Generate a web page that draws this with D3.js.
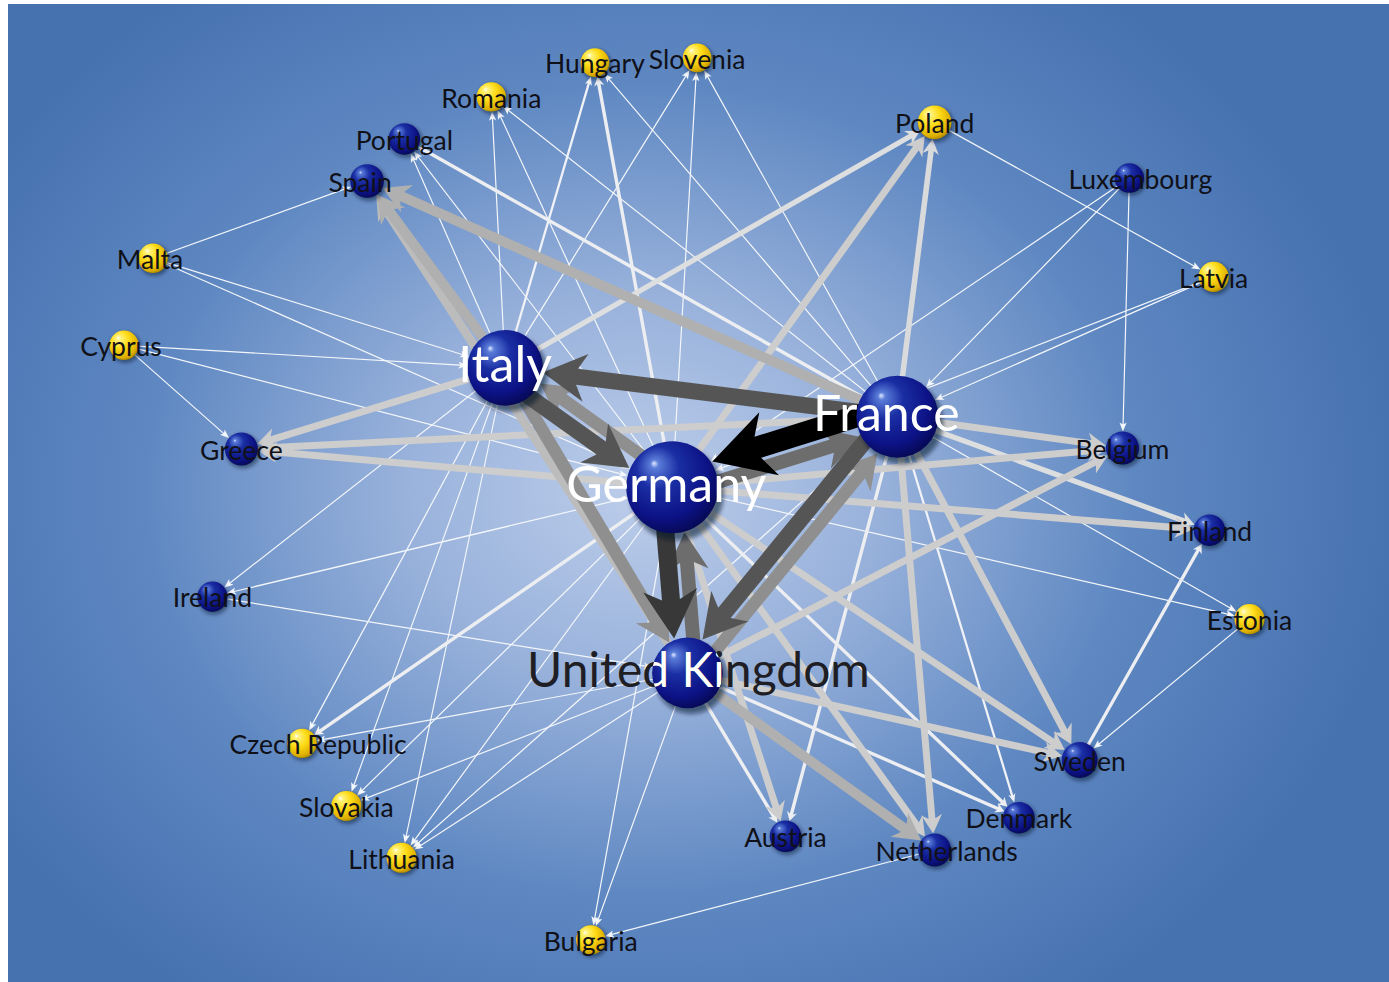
<!DOCTYPE html>
<html>
<head>
<meta charset="utf-8">
<script src="https://cdn.jsdelivr.net/npm/d3@7"></script>
<style>
  html, body { margin: 0; padding: 0; background: #fff; }
  svg { display: block; }
</style>
</head>
<body>
<svg id="chart" width="1389" height="982"></svg>
<script>

// countries, layout position (0-100 units), size index, membership group
var countries = ["Hungary","Slovenia","Romania","Portugal","Spain","Poland","Luxembourg","Latvia",
                 "Malta","Cyprus","Italy","France","Germany","Greece","Belgium","Finland",
                 "Ireland","Estonia","United Kingdom","Czech Republic","Sweden","Slovakia",
                 "Denmark","Austria","Netherlands","Lithuania","Bulgaria"];
var layoutX = [42.5,49.9,35.0,28.7,26.0,67.1,81.2,87.3, 10.5,8.4,36.0,64.4,48.1,16.9,80.7,87.0,
               14.8,89.9,49.2,21.3,77.6,24.5, 73.2,56.3,67.1,28.5,42.2];
var layoutY = [6.0,5.5,9.5,13.8,18.1,12.1,17.8,27.9, 26.0,34.9,37.2,42.2,49.4,45.5,45.4,53.8,
               60.6,62.9,68.4,75.6,77.3,82.0, 83.2,85.1,86.5,87.3,95.7];
var sizeIndex = [1.1,1.1,1.2,1.5,1.8,1.8,1.2,1.3, 1.2,1.2,7.7,8.6,10,1.7,1.7,1.5,
                 1.3,1.3,7.0,1.2,2.1,1.3, 1.5,1.5,1.7,1.3,1.2];
var memberGroup = ["new","new","new","old","old","new","old","new",
                   "new","new","old","old","old","old","old","old",
                   "old","new","old","new","old","new",
                   "old","old","old","new","new"];

// directed links: [from, to, strength]
var flows = [
  ["France","Germany",10],
  ["Germany","United Kingdom",8],
  ["France","Italy",7], ["Italy","Germany",7], ["France","United Kingdom",7],
  ["Germany","France",6], ["United Kingdom","Germany",6],
  ["Italy","United Kingdom",5], ["United Kingdom","France",5], ["Germany","Italy",5],
  ["Italy","Spain",4], ["France","Spain",4], ["United Kingdom","Netherlands",4], ["United Kingdom","Spain",3.6],
  ["Germany","Greece",3], ["France","Greece",3], ["Italy","Greece",3],
  ["France","Belgium",3], ["Germany","Belgium",3], ["United Kingdom","Belgium",3],
  ["Germany","Finland",3], ["France","Sweden",3], ["Germany","Sweden",3], ["United Kingdom","Sweden",3],
  ["France","Netherlands",3], ["Germany","Netherlands",3], ["Germany","Austria",3],
  ["Germany","Poland",3], ["France","Poland",2.6],
  ["France","Finland",2.5], ["Italy","Poland",2.5],
  ["France","Portugal",2], ["Germany","Hungary",2], ["Germany","Czech Republic",2],
  ["United Kingdom","Austria",2], ["France","Austria",2], ["Germany","Denmark",2],
  ["United Kingdom","Denmark",2], ["Sweden","Finland",2],
  ["Italy","Hungary",1.5], ["France","Denmark",1.5],
  ["Italy","Romania",1], ["Germany","Romania",1], ["France","Romania",1],
  ["Italy","Slovenia",1], ["Germany","Slovenia",1], ["France","Slovenia",1],
  ["France","Hungary",1], ["Italy","Portugal",1], ["Germany","Portugal",1],
  ["Malta","Spain",1], ["Malta","Italy",1], ["Malta","Germany",1],
  ["Cyprus","Italy",1], ["Cyprus","Germany",1], ["Cyprus","Greece",1],
  ["Italy","Ireland",1], ["Germany","Ireland",1], ["Ireland","United Kingdom",1],
  ["Italy","Czech Republic",1], ["United Kingdom","Czech Republic",1],
  ["Italy","Slovakia",1], ["Germany","Slovakia",1], ["United Kingdom","Slovakia",1],
  ["Italy","Lithuania",1], ["Germany","Lithuania",1], ["United Kingdom","Lithuania",1], ["France","Lithuania",1],
  ["Germany","Bulgaria",1], ["United Kingdom","Bulgaria",1], ["Netherlands","Bulgaria",1],
  ["Luxembourg","France",1], ["Luxembourg","Germany",1], ["Luxembourg","Belgium",1],
  ["Latvia","France",1], ["Latvia","Germany",1], ["Poland","Latvia",1],
  ["Germany","Estonia",1], ["France","Estonia",1], ["Estonia","Sweden",1]
];

var bigLabels = ["Italy","France","Germany","United Kingdom"];
var labelNudge = {"Czech Republic":16,"United Kingdom":11,"France":-11,"Netherlands":12,
                  "Luxembourg":11,"Spain":-7,"Malta":-3,"Cyprus":-3,"Germany":-6};

var svg = d3.select("#chart");
var W = 1389, H = 982;

var x = d3.scaleLinear().domain([0,100]).range([8, W]);
var y = d3.scaleLinear().domain([0,100]).range([4, H]);
var radius = d3.scaleLinear().domain([1,10]).range([14,46]);
var edgeWidth = d3.scaleLinear().domain([1,2,3,4,5,6,7,8,10]).range([1.2,3.4,7,10,12.5,14,16,18,22]);
var edgeColor = d3.scaleLinear().domain([1,2,3,4,5,6,7,8,10])
    .range(["#f3f6fa","#eceef1","#cdcdcd","#b0b0b0","#8f8f8f","#6d6d6d","#555555","#383838","#000000"]);

var defs = svg.append("defs");

// background
var bg = defs.append("radialGradient").attr("id","bg")
    .attr("gradientUnits","userSpaceOnUse")
    .attr("cx",640).attr("cy",490).attr("r",760)
    .attr("gradientTransform","translate(640,490) scale(1,0.82) translate(-640,-490)");
bg.append("stop").attr("offset","0%").attr("stop-color","#bccdea");
bg.append("stop").attr("offset","30%").attr("stop-color","#9ab3dc");
bg.append("stop").attr("offset","65%").attr("stop-color","#5f88c2");
bg.append("stop").attr("offset","100%").attr("stop-color","#4672b0");

var blue = defs.append("radialGradient").attr("id","ballBlue")
    .attr("cx","0.42").attr("cy","0.38").attr("r","0.66").attr("fx","0.3").attr("fy","0.24");
blue.append("stop").attr("offset","0%").attr("stop-color","#dfe8ff");
blue.append("stop").attr("offset","7%").attr("stop-color","#5a7cd8");
blue.append("stop").attr("offset","35%").attr("stop-color","#1a2ea4");
blue.append("stop").attr("offset","75%").attr("stop-color","#0c1285");
blue.append("stop").attr("offset","100%").attr("stop-color","#060850");

var yellow = defs.append("radialGradient").attr("id","ballYellow")
    .attr("cx","0.42").attr("cy","0.38").attr("r","0.66").attr("fx","0.3").attr("fy","0.24");
yellow.append("stop").attr("offset","0%").attr("stop-color","#fffdf0");
yellow.append("stop").attr("offset","12%").attr("stop-color","#fff27c");
yellow.append("stop").attr("offset","45%").attr("stop-color","#ffdc18");
yellow.append("stop").attr("offset","85%").attr("stop-color","#dcae00");
yellow.append("stop").attr("offset","100%").attr("stop-color","#a47e00");

defs.append("filter").attr("id","soft").attr("x","-50%").attr("y","-50%").attr("width","200%").attr("height","200%")
  .append("feGaussianBlur").attr("stdDeviation",2.2);

svg.append("rect").attr("x",8).attr("y",4).attr("width",W-8).attr("height",H-4).attr("fill","url(#bg)");

// node lookup
var nodes = countries.map(function(c, i){
  return { name: c, x: x(layoutX[i]), y: y(layoutY[i]), r: radius(sizeIndex[i]), group: memberGroup[i] };
});
var byName = {};
nodes.forEach(function(n){ byName[n.name] = n; });

var pairSet = {};
flows.forEach(function(f){ pairSet[f[0]+"|"+f[1]] = true; });

function arrowPath(f){
  var s = byName[f[0]], t = byName[f[1]], w = edgeWidth(f[2]);
  var dx = t.x - s.x, dy = t.y - s.y, len = Math.sqrt(dx*dx + dy*dy);
  var ux = dx/len, uy = dy/len, nx = -uy, ny = ux;
  var off = pairSet[f[1]+"|"+f[0]] ? (w/2 + 1.5) : 0;
  var sx = s.x + nx*off, sy = s.y + ny*off;
  var tx = t.x - ux*t.r + nx*off, ty = t.y - uy*t.r + ny*off;
  var hl = Math.max(9, 2.7*w), hh = Math.max(3.6, 1.5*w);
  var nkx = tx - ux*hl*0.8, nky = ty - uy*hl*0.8;
  var bx = tx - ux*hl, by = ty - uy*hl;
  var pts = [
    [sx + nx*w/2, sy + ny*w/2],
    [nkx + nx*w/2, nky + ny*w/2],
    [bx + nx*hh, by + ny*hh],
    [tx, ty],
    [bx - nx*hh, by - ny*hh],
    [nkx - nx*w/2, nky - ny*w/2],
    [sx - nx*w/2, sy - ny*w/2]
  ];
  return "M" + pts.map(function(p){ return p[0].toFixed(1)+","+p[1].toFixed(1); }).join("L") + "Z";
}

var sorted = flows.slice().sort(function(a,b){ return a[2]-b[2]; });

svg.append("g").attr("class","links")
  .selectAll("path").data(sorted).enter().append("path")
    .attr("d", arrowPath)
    .attr("fill", function(d){ return edgeColor(d[2]); });

// nodes
var g = svg.append("g").attr("class","nodes");
g.selectAll("circle.shadow").data(nodes).enter().append("circle")
  .attr("class","shadow")
  .attr("cx", function(d){ return d.x + d.r*0.1; })
  .attr("cy", function(d){ return d.y + d.r*0.14; })
  .attr("r", function(d){ return d.r*1.02; })
  .attr("fill","rgba(10,15,40,0.55)")
  .attr("filter","url(#soft)");
g.selectAll("circle.ball").data(nodes).enter().append("circle")
  .attr("class","ball")
  .attr("cx", function(d){ return d.x; })
  .attr("cy", function(d){ return d.y; })
  .attr("r", function(d){ return d.r; })
  .attr("fill", function(d){ return d.group === "new" ? "url(#ballYellow)" : "url(#ballBlue)"; });

// labels
var labelFont = "Lato, 'Open Sans', sans-serif";
var lg = svg.append("g").attr("class","labels");
nodes.forEach(function(n){
  var big = bigLabels.indexOf(n.name) >= 0;
  var nudge = labelNudge[n.name] || 0;
  var fs = big ? (n.name === "United Kingdom" ? 48 : 50) : 26.5;
  var t = lg.append("text")
    .attr("x", n.x + nudge)
    .attr("y", n.y + (big ? 2 : 4))
    .attr("text-anchor","middle")
    .attr("dominant-baseline","middle")
    .attr("font-family", labelFont)
    .attr("font-size", fs)
    .text(n.name);
  if (n.name === "United Kingdom") {
    t.attr("fill","#1e1e24");
    defs.append("clipPath").attr("id","ukclip")
      .append("circle").attr("cx", n.x).attr("cy", n.y).attr("r", n.r);
    lg.append("text")
      .attr("x", n.x + nudge)
      .attr("y", n.y + 2)
      .attr("text-anchor","middle")
      .attr("dominant-baseline","middle")
      .attr("font-family", labelFont)
      .attr("font-size", fs)
      .attr("fill","#ffffff")
      .attr("clip-path","url(#ukclip)")
      .text(n.name);
  } else {
    t.attr("fill", big ? "#ffffff" : "#101018");
  }
});

</script>
</body>
</html>
